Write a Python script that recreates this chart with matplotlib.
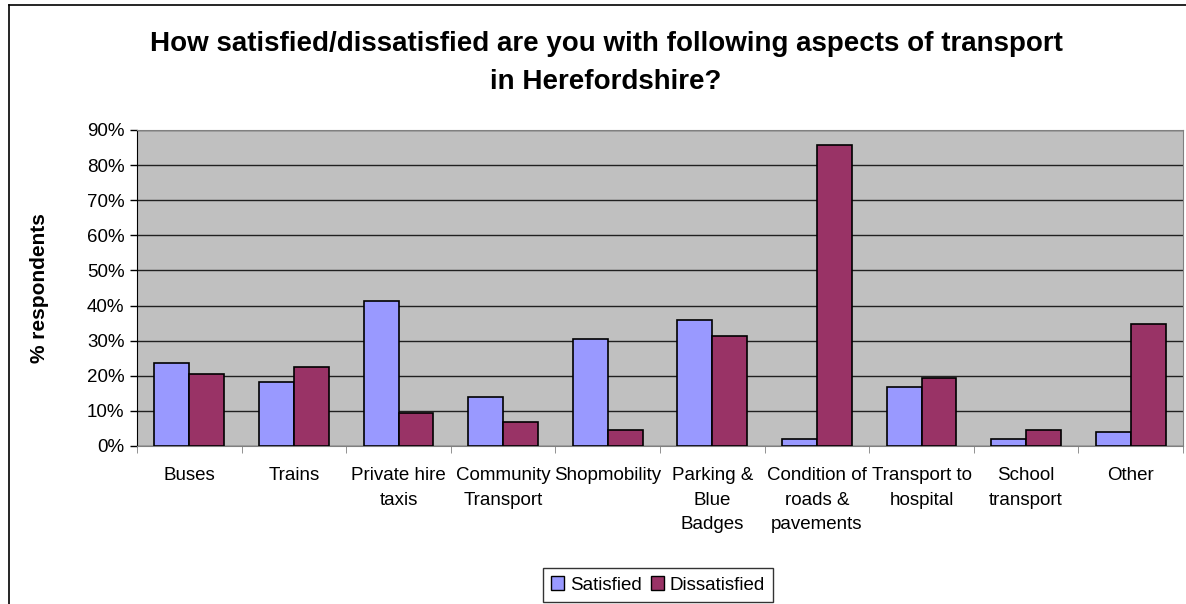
import matplotlib.pyplot as plt
from matplotlib.lines import Line2D
from matplotlib.patches import Patch
import numpy as np

categories = ['Buses', 'Trains', 'Private hire\ntaxis', 'Community\nTransport',
              'Shopmobility', 'Parking &\nBlue\nBadges', 'Condition of\nroads &\npavements',
              'Transport to\nhospital', 'School\ntransport', 'Other']
satisfied = [23.7, 18.3, 41.3, 14.0, 30.4, 35.9, 2.0, 16.9, 2.0, 4.0]
dissatisfied = [20.4, 22.4, 9.5, 6.9, 4.5, 31.3, 85.6, 19.4, 4.5, 34.8]
yticks = [0, 10, 20, 30, 40, 50, 60, 70, 80, 90]

plt.rcParams['font.family'] = ['Liberation Sans', 'DejaVu Sans']

fig = plt.figure(figsize=(11.86, 6.04), dpi=100)
ax = fig.add_axes([137/1186, 1-446/604, (1183-137)/1186, (446-130)/604])
ax.set_facecolor('#c0c0c0')

x = np.arange(len(categories))
w = 1/3
ax.bar(x - w/2, satisfied, w, color='#9999ff', edgecolor='black', linewidth=1.2, label='Satisfied', zorder=3)
ax.bar(x + w/2, dissatisfied, w, color='#993366', edgecolor='black', linewidth=1.2, label='Dissatisfied', zorder=3)

ax.set_xlim(-0.5, len(categories) - 0.5)
ax.set_ylim(0, 90)
ax.set_yticks(yticks)
ax.set_yticklabels([f'{t}%' for t in yticks], fontsize=13.5)
ax.yaxis.grid(True, color='#202020', linewidth=1, zorder=1)
ax.tick_params(axis='y', length=5, width=1, pad=4)

ax.set_xticks(x)
ax.set_xticklabels(categories, fontsize=13.5, linespacing=1.6, va='top')
ax.set_xticks(np.arange(len(categories) + 1) - 0.5, minor=True)
ax.tick_params(axis='x', which='major', length=0, pad=15)
ax.tick_params(axis='x', which='minor', length=5, color='#808080')

ax.spines['top'].set_color('#808080')
ax.spines['right'].set_color('#808080')
ax.spines['left'].set_color('black')
ax.spines['bottom'].set_color('#808080')

ax.set_ylabel('% respondents', fontsize=15, fontweight='bold', labelpad=27)

fig.text(606/1186, 1-63/604, 'How satisfied/dissatisfied are you with following aspects of transport\nin Herefordshire?',
         ha='center', va='center', fontsize=20, fontweight='bold', linespacing=1.6)

handles = [Patch(facecolor='#9999ff', edgecolor='black', label='Satisfied'),
           Patch(facecolor='#993366', edgecolor='black', label='Dissatisfied')]
fig.legend(handles=handles, loc='center', bbox_to_anchor=(658/1186, 1-585/604), ncol=2,
           fontsize=13.5, frameon=True, fancybox=False, edgecolor='black', handlelength=0.7,
           handleheight=0.7, handletextpad=0.3, columnspacing=0.5, borderpad=0.45)

# outer chart border
fig.add_artist(Line2D([9/1186, 9/1186], [0, 1-5/604], color='black', linewidth=1.2, transform=fig.transFigure))
fig.add_artist(Line2D([9/1186, 1], [1-5/604, 1-5/604], color='black', linewidth=1.2, transform=fig.transFigure))

fig.savefig('out.png', dpi=100)
